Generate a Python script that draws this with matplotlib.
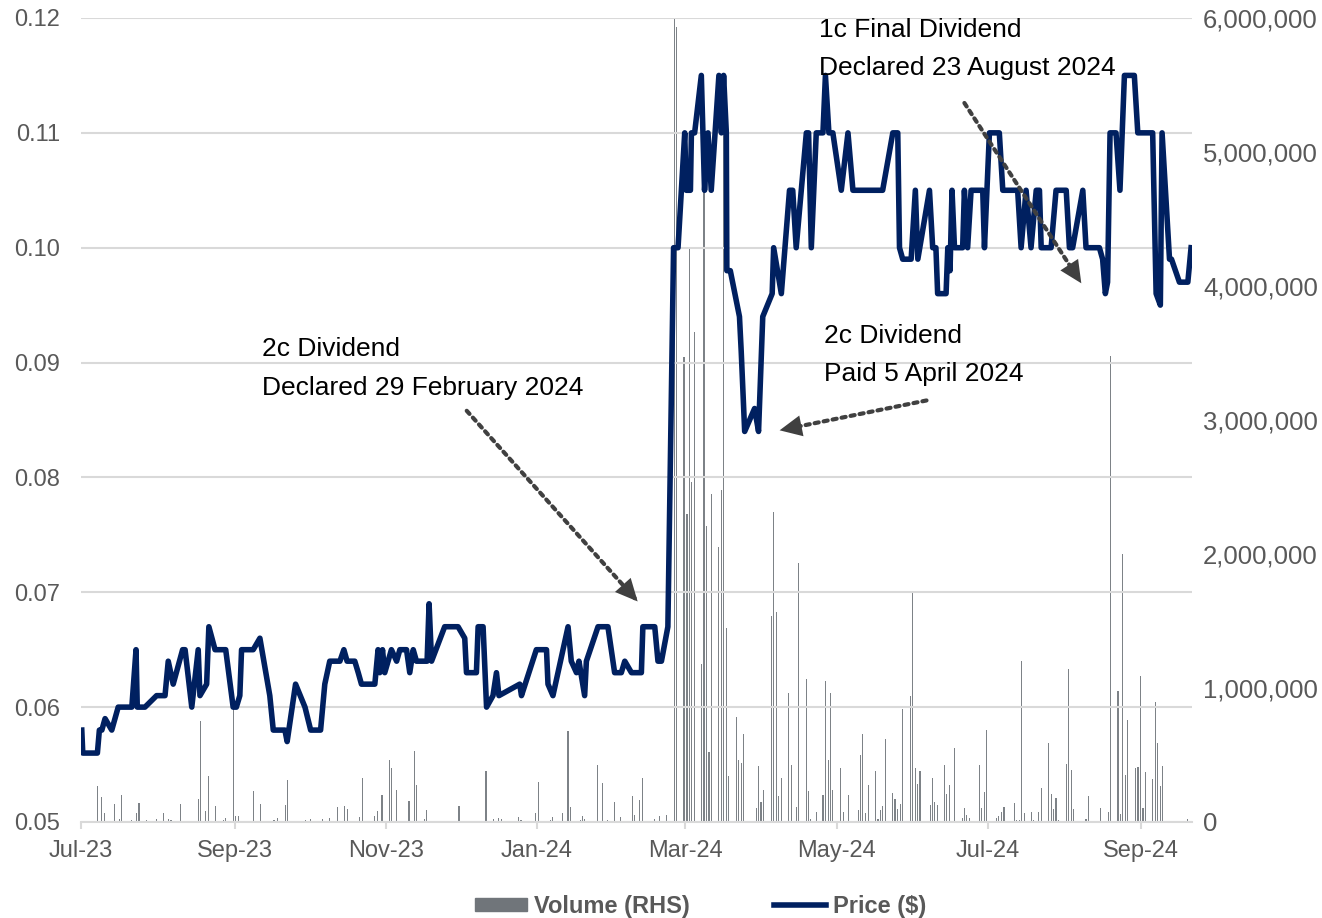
import numpy as np
import pandas as pd
import matplotlib
matplotlib.use("Agg")
import matplotlib.pyplot as plt
import matplotlib.dates as mdates
from matplotlib.ticker import FuncFormatter, MultipleLocator
from matplotlib.patches import Patch
from matplotlib.lines import Line2D

plt.rcParams['font.family'] = ['Liberation Sans', 'DejaVu Sans']

START = pd.Timestamp("2023-07-01")
NAVY = "#002060"
GREY_TXT = "#595959"
GRID = "#d9d9d9"

# price line vertices: days after 1 Jul 2023, price in $
price_day = [0.3, 0.7, 6.6, 7.4, 8.4, 9.7, 12.4, 15.0, 20.5, 22.2, 22.7, 25.8, 30.5, 33.9,
             35.2, 37.2, 41.0, 42.0, 44.7, 47.3, 48.0, 50.7, 51.6, 54.1, 58.4, 61.4, 62.7,
             64.1, 64.8, 69.5, 72.2, 76.2, 77.6, 82.3, 83.2, 86.6, 90.4, 92.7, 96.7, 98.4,
             100.4, 104.5, 106.1, 107.4, 110.5, 111.9, 113.2, 118.6, 119.9, 120.6, 121.7,
             122.6, 125.3, 127.4, 128.7, 131.4, 132.7, 134.1, 135.4, 139.7, 140.5, 141.5,
             146.8, 152.2, 154.9, 155.6, 159.6, 160.3, 162.3, 163.7, 166.3, 167.7, 168.7,
             177.1, 177.8, 183.8, 187.9, 188.5, 190.5, 196.6, 197.9, 200.0, 201.0, 203.3,
             204.0, 208.7, 212.7, 215.4, 218.1, 219.5, 222.2, 226.2, 226.8, 231.6, 232.9,
             234.3, 236.9, 239.2, 241.0, 243.7, 244.3, 246.0, 246.4, 247.7, 250.4, 251.7,
             253.1, 254.4, 257.5, 258.5, 259.4, 260.5, 260.7, 262.1, 265.8, 266.5, 267.9,
             271.9, 273.5, 275.2, 279.0, 279.6, 282.7, 286.0, 287.3, 288.7, 292.8, 293.7,
             294.8, 296.8, 299.5, 300.5, 301.9, 303.5, 306.9, 309.6, 311.6, 323.6, 327.7,
             329.7, 330.4, 331.7, 335.1, 336.8, 337.8, 342.5, 343.8, 345.1, 345.8, 349.2,
             349.9, 350.8, 351.6, 352.6, 355.9, 356.6, 357.9, 359.3, 364.0, 364.7, 366.7,
             370.7, 372.1, 378.1, 379.5, 381.5, 383.5, 385.6, 386.9, 387.6, 391.6, 393.6,
             397.7, 399.0, 400.3, 404.4, 405.7, 411.1, 412.4, 413.5, 414.4, 415.4, 417.8,
             419.4, 421.2, 425.2, 426.6, 432.6, 434.0, 435.7, 436.4, 439.4, 440.2, 443.4,
             446.8, 448.1]
price = [0.058, 0.056, 0.056, 0.058, 0.058, 0.059, 0.058, 0.060, 0.060, 0.065, 0.060, 0.060,
         0.061, 0.061, 0.064, 0.062, 0.065, 0.065, 0.060, 0.065, 0.061, 0.062, 0.067, 0.065,
         0.065, 0.060, 0.060, 0.061, 0.065, 0.065, 0.066, 0.061, 0.058, 0.058, 0.057, 0.062,
         0.060, 0.058, 0.058, 0.062, 0.064, 0.064, 0.065, 0.064, 0.064, 0.063, 0.062, 0.062,
         0.065, 0.063, 0.065, 0.063, 0.065, 0.064, 0.065, 0.065, 0.063, 0.065, 0.064, 0.064,
         0.069, 0.064, 0.067, 0.067, 0.066, 0.063, 0.063, 0.067, 0.067, 0.060, 0.061, 0.063,
         0.061, 0.062, 0.061, 0.065, 0.065, 0.062, 0.061, 0.067, 0.064, 0.063, 0.064, 0.061,
         0.064, 0.067, 0.067, 0.063, 0.063, 0.064, 0.063, 0.063, 0.067, 0.067, 0.064, 0.064,
         0.067, 0.100, 0.100, 0.110, 0.105, 0.105, 0.110, 0.110, 0.115, 0.105, 0.110, 0.105,
         0.115, 0.110, 0.115, 0.110, 0.098, 0.098, 0.094, 0.091, 0.084, 0.086, 0.084, 0.094,
         0.096, 0.100, 0.096, 0.105, 0.105, 0.100, 0.110, 0.110, 0.100, 0.110, 0.110, 0.115,
         0.110, 0.110, 0.105, 0.110, 0.105, 0.105, 0.110, 0.110, 0.100, 0.099, 0.099, 0.105,
         0.099, 0.105, 0.100, 0.100, 0.096, 0.096, 0.100, 0.098, 0.105, 0.100, 0.100, 0.105,
         0.100, 0.105, 0.105, 0.100, 0.110, 0.110, 0.105, 0.105, 0.100, 0.105, 0.100, 0.105,
         0.105, 0.100, 0.100, 0.105, 0.105, 0.100, 0.100, 0.105, 0.100, 0.100, 0.099, 0.096,
         0.097, 0.110, 0.110, 0.105, 0.115, 0.115, 0.110, 0.110, 0.096, 0.095, 0.110, 0.099,
         0.099, 0.097, 0.097, 0.100]

# daily volume bars: days after 1 Jul 2023, volume in thousands of shares
vol_day = [6.6, 8.4, 9.4, 13.4, 15.5, 16.4, 20.5, 21.4, 22.5, 23.4, 26.5, 30.5, 33.2, 35.4,
           36.3, 37.4, 40.3, 42.0, 47.3, 48.4, 50.3, 51.4, 54.3, 57.6, 58.4, 61.5, 62.5, 63.5,
           69.5, 72.5, 77.2, 77.9, 79.3, 82.6, 83.4, 90.6, 92.7, 97.5, 100.4, 103.6, 106.2,
           107.6, 112.5, 113.5, 118.6, 119.5, 121.5, 124.5, 125.5, 127.5, 132.4, 134.6, 135.5,
           138.6, 139.6, 141.5, 152.6, 156.6, 160.7, 163.5, 166.5, 168.5, 169.7, 176.6, 177.6,
           183.4, 184.5, 189.5, 190.5, 194.3, 196.6, 197.5, 198.4, 201.6, 202.5, 203.4, 208.4,
           210.6, 212.5, 215.4, 217.6, 219.6, 222.6, 223.5, 225.5, 226.6, 231.6, 233.6, 236.5,
           239.6, 240.5, 243.4, 244.6, 245.6, 246.6, 247.6, 250.5, 251.5, 252.5, 253.5, 254.5,
           257.5, 258.5, 259.5, 260.5, 261.5, 264.6, 265.5, 266.5, 267.5, 272.6, 273.5, 274.5,
           275.5, 278.7, 279.7, 280.6, 281.7, 282.7, 285.6, 286.7, 288.7, 289.7, 292.8, 293.7,
           294.6, 296.8, 299.5, 300.7, 301.7, 302.6, 303.5, 306.6, 307.7, 309.7, 313.7, 314.5,
           315.6, 316.7, 317.8, 320.7, 321.7, 322.6, 323.7, 324.6, 327.7, 328.6, 329.7, 330.7,
           331.7, 334.7, 335.6, 336.7, 337.8, 338.7, 342.8, 343.7, 344.6, 345.7, 348.6, 349.4,
           350.6, 352.6, 355.7, 356.6, 357.6, 358.6, 362.6, 363.6, 364.7, 365.6, 369.7, 370.5,
           371.7, 372.6, 376.7, 377.7, 378.7, 379.7, 380.7, 383.6, 384.6, 386.6, 387.6, 390.6,
           391.6, 392.6, 393.6, 394.7, 397.7, 398.6, 399.7, 400.7, 405.7, 406.6, 411.6, 414.6,
           415.6, 418.6, 419.7, 420.6, 421.7, 422.6, 425.7, 426.7, 427.7, 428.7, 429.7, 432.7,
           433.7, 434.7, 435.6, 436.7, 446.8]
volume_k = [266, 184, 67, 134, 25, 199, 17, 10, 67, 142, 15, 25, 67, 25, 12, 10, 134, 10, 172,
            751, 85, 341, 122, 17, 30, 851, 42, 42, 234, 134, 10, 17, 30, 124, 313, 15, 22, 22,
            30, 109, 117, 97, 35, 330, 42, 85, 199, 460, 403, 236, 154, 527, 274, 22, 92, 5,
            117, 5, 5, 378, 22, 30, 25, 40, 15, 67, 296, 15, 35, 65, 677, 114, 10, 17, 42, 20,
            428, 289, 15, 149, 35, 10, 192, 55, 164, 326, 20, 42, 55, 6000, 5930, 3470, 2300,
            4280, 2540, 3660, 1180, 4740, 2210, 525, 2450, 2050, 2480, 5580, 1450, 345, 780,
            465, 443, 657, 105, 420, 149, 236, 1540, 2310, 1570, 194, 326, 965, 423, 112, 1930,
            1070, 231, 25, 75, 202, 1050, 460, 965, 236, 401, 75, 202, 90, 500, 654, 65, 274,
            381, 25, 87, 117, 617, 214, 174, 95, 132, 841, 940, 1720, 406, 281, 381, 124, 331,
            149, 127, 423, 211, 274, 550, 32, 102, 50, 27, 423, 107, 224, 684, 32, 48, 75, 114,
            139, 12, 12, 1200, 65, 75, 12, 75, 256, 587, 211, 100, 177, 12, 430, 1140, 386, 95,
            25, 194, 102, 75, 3480, 978, 62, 2000, 348, 761, 406, 413, 1090, 102, 376, 318, 896,
            592, 269, 418, 20]

notes = ["2c Dividend\nDeclared 29 February 2024",
         "2c Dividend\nPaid 5 April 2024",
         "1c Final Dividend\nDeclared 23 August 2024"]


def day(d):
    return START + pd.Timedelta(days=d)


price_dates = START + pd.to_timedelta(price_day, unit="D")
vol_dates = START + pd.to_timedelta(vol_day, unit="D")

fig = plt.figure(figsize=(13.22, 9.18), dpi=100)
ax = fig.add_axes([0.0613, 0.1046, 0.8404, 0.8758])
ax2 = ax.twinx()

ax2.bar(vol_dates, np.array(volume_k) * 1000, width=0.45, color="#7d8287", zorder=1)
ax.set_zorder(ax2.get_zorder() + 1)
ax.patch.set_visible(False)
ax.plot(price_dates, price, color=NAVY, lw=4.0, zorder=3)

ax.set_ylim(0.05, 0.12)
ax2.set_ylim(0, 6e6)
ax.set_xlim(START, day(448.5))
ax.yaxis.set_major_locator(MultipleLocator(0.01))
ax.yaxis.set_major_formatter(FuncFormatter(lambda v, p: f"{v:.2f}"))
ax2.yaxis.set_major_locator(MultipleLocator(1e6))
ax2.yaxis.set_major_formatter(FuncFormatter(lambda v, p: f"{v:,.0f}"))
ax.xaxis.set_major_locator(mdates.MonthLocator(bymonth=[1, 3, 5, 7, 9, 11]))
ax.xaxis.set_major_formatter(mdates.DateFormatter("%b-%y"))

ax.yaxis.grid(True, color=GRID, lw=1.5)
ax.set_axisbelow(True)
for a in (ax, ax2):
    for s in a.spines.values():
        s.set_visible(False)
ax.spines["bottom"].set_visible(True)
ax.spines["bottom"].set_color(GRID)
ax.spines["bottom"].set_linewidth(1.5)

ax.tick_params(axis="y", length=0, pad=15, labelsize=17, labelcolor=GREY_TXT)
ax2.tick_params(axis="y", length=0, pad=8, labelsize=18.5, labelcolor=GREY_TXT)
ax.tick_params(axis="x", length=5, width=1.5, color=GRID, pad=8, labelsize=17,
               labelcolor=GREY_TXT)

# annotations
note_font = dict(size=19, color="black", va="top", ha="left", linespacing=1.75)
note_pos = [(73.0, 0.0922), (300.1, 0.0934), (298.1, 0.1200)]
arrows = [((155.7, 0.0858), (224.7, 0.0692)),
          ((341.3, 0.0867), (282.0, 0.0841)),
          ((356.6, 0.1126), (403.8, 0.0969))]
for txt, (dx, py) in zip(notes, note_pos):
    ax.text(day(dx), py, txt, **note_font, zorder=5)
for (t_d, t_p), (h_d, h_p) in arrows:
    # dotted shaft
    ax.annotate("", xy=(day(h_d), h_p), xytext=(day(t_d), t_p),
                arrowprops=dict(arrowstyle="-", color="#404040", lw=3.0,
                                linestyle=(0, (1, 1.2)), shrinkA=0, shrinkB=3),
                zorder=5)
    # solid head
    b_d = h_d + (t_d - h_d) * 0.05
    b_p = h_p + (t_p - h_p) * 0.05
    ax.annotate("", xy=(day(h_d), h_p), xytext=(day(b_d), b_p),
                arrowprops=dict(arrowstyle="-|>,head_length=0.8,head_width=0.38",
                                mutation_scale=20, color="#404040", lw=0,
                                shrinkA=0, shrinkB=0),
                zorder=6)

handles = [Patch(color="#70757a"), Line2D([], [], color=NAVY, lw=4.0)]
fig.legend(handles, ["Volume (RHS)", "Price ($)"], loc="center",
           bbox_to_anchor=(0.53, 0.0125), ncol=2, frameon=False,
           handlelength=2.2, handleheight=0.5, handletextpad=0.3, columnspacing=3.6,
           prop=dict(weight="bold", size=17), labelcolor=GREY_TXT)

fig.savefig("out.png", dpi=100)
